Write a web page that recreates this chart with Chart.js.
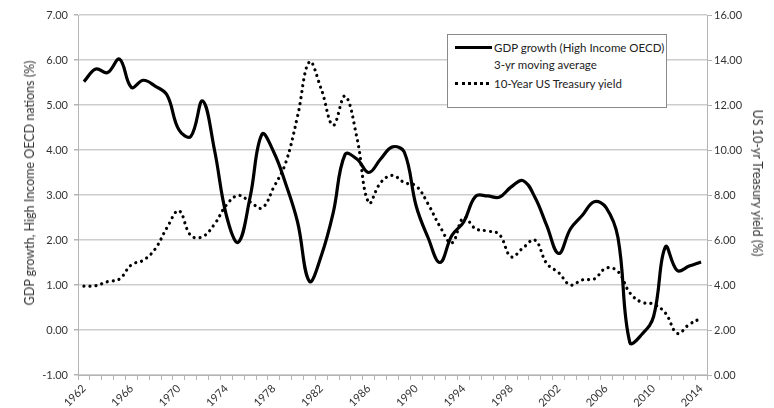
<!DOCTYPE html>
<html>
<head>
<meta charset="utf-8">
<script src="https://cdn.jsdelivr.net/npm/chart.js@4.4.1/dist/chart.umd.min.js"></script>
<style>
    html, body { margin: 0; padding: 0; background: #fff; }
    #wrap { position: relative; width: 774px; height: 408px; font-family: Lato, "Open Sans", sans-serif; color: #333; }
    #chart { position: absolute; left: 0; top: 0; }
    .axis-title { position: absolute; white-space: nowrap; font-size: 12.5px; line-height: 14px; color: #333; }
    #title-left { left: 30px; top: 183px; transform: translate(-50%, -50%) rotate(-90deg); }
    #title-right { left: 757px; top: 183px; transform: translate(-50%, -50%) rotate(90deg); }
    #legend { position: absolute; left: 447px; top: 34px; width: 218px; height: 72px; border: 1px solid #8a8a8a; background: #fff; font-size: 11.5px; color: #222; }
    #legend .sample { position: absolute; left: 7px; width: 37px; height: 0; }
    #legend .solid { top: 11px; border-top: 3px solid #000; }
    #legend .dotted { top: 47px; width: 34px; border-top: 3px dotted #000; }
    #legend .text { position: absolute; left: 46px; line-height: 17px; white-space: nowrap; }
</style>
</head>
<body>
<div id="wrap">
    <canvas id="chart" width="774" height="408"></canvas>
    <div class="axis-title" id="title-left">GDP growth, High Income OECD nations (%)</div>
    <div class="axis-title" id="title-right">US 10-yr Treasury yield (%)</div>
    <div id="legend">
        <div class="sample solid"></div>
        <div class="text" style="top:4px">GDP growth (High Income OECD)<br>3-yr moving average</div>
        <div class="sample dotted"></div>
        <div class="text" style="top:40px">10-Year US Treasury yield</div>
    </div>
</div>
<script>
// years on the category axis
var years = [];
for (var y = 1962; y <= 2014; y++) {
    years.push(String(y));
}

// GDP growth, high income OECD, 3-yr moving average (%)
var gdpGrowth = [
    5.52, 5.80, 5.72, 6.02, 5.39, 5.55, 5.42, 5.22, 4.45, 4.30,
    5.09, 4.00, 2.55, 1.95, 2.95, 4.35, 3.95, 3.25, 2.40, 1.08,
    1.65, 2.60, 3.90, 3.80, 3.50, 3.80, 4.07, 3.95, 2.75, 2.05,
    1.50, 2.10, 2.40, 2.97, 2.98, 2.95, 3.18, 3.32, 2.95, 2.32,
    1.70, 2.25, 2.55, 2.85, 2.72, 2.05, -0.28, -0.10, 0.30, 1.85,
    1.32, 1.42, 1.51
];

// 10-year US treasury yield (%)
var treasuryYield = [
    3.95, 3.97, 4.15, 4.27, 4.90, 5.10, 5.60, 6.55, 7.30, 6.20,
    6.15, 6.70, 7.55, 7.98, 7.70, 7.42, 8.35, 9.43, 11.50, 13.92,
    12.70, 11.10, 12.40, 10.55, 7.65, 8.55, 8.87, 8.55, 8.40, 7.60,
    6.60, 5.87, 7.00, 6.50, 6.40, 6.25, 5.25, 5.65, 6.00, 4.95,
    4.55, 4.00, 4.23, 4.27, 4.75, 4.60, 3.65, 3.23, 3.15, 2.75,
    1.85, 2.25, 2.52
];

var labelEvery = 4;
var tickFont = { family: 'Lato', size: 11 };
var tickColor = '#333';
var gridColor = '#cdcdcd';
var axisColor = '#b4b4b4';

function fixWidth(w) {
    return function (scale) { scale.width = w; };
}

var config = {
    type: 'line',
    data: {
        labels: years,
        datasets: [
            {
                label: 'GDP growth (High Income OECD) 3-yr moving average',
                data: gdpGrowth,
                yAxisID: 'y',
                borderColor: '#000',
                borderWidth: 3.2,
                tension: 0.4,
                pointRadius: 0,
                fill: false
            },
            {
                label: '10-Year US Treasury yield',
                data: treasuryYield,
                yAxisID: 'y2',
                borderColor: '#000',
                borderWidth: 3.2,
                borderDash: [0.01, 6],
                borderCapStyle: 'round',
                tension: 0.4,
                pointRadius: 0,
                fill: false
            }
        ]
    },
    options: {
        responsive: false,
        animation: false,
        layout: { padding: { top: 15, left: 0, right: 0, bottom: 0 } },
        plugins: {
            legend: { display: false },
            tooltip: { enabled: false }
        },
        scales: {
            x: {
                offset: true,
                grid: { offset: true, drawOnChartArea: false, drawTicks: true, tickLength: 5, color: axisColor },
                border: { display: true, color: axisColor, width: 1 },
                ticks: {
                    autoSkip: false,
                    minRotation: 45,
                    maxRotation: 45,
                    padding: 2,
                    color: tickColor,
                    font: { family: 'Lato', size: 11 },
                    callback: function (value, index) {
                        return index % labelEvery === 0 ? years[index] : '';
                    }
                },
                afterFit: function (scale) { scale.height = 33; }
            },
            y: {
                position: 'left',
                min: -1,
                max: 7,
                grid: { color: gridColor, lineWidth: 1.5, tickLength: 4, tickColor: axisColor },
                border: { display: true, color: axisColor, width: 1 },
                ticks: {
                    stepSize: 1,
                    padding: 6,
                    color: tickColor,
                    font: tickFont,
                    callback: function (v) { return v.toFixed(2); }
                },
                afterFit: fixWidth(78)
            },
            y2: {
                position: 'right',
                min: 0,
                max: 16,
                grid: { drawOnChartArea: false, tickLength: 5, color: axisColor },
                border: { display: true, color: axisColor, width: 1 },
                ticks: {
                    stepSize: 2,
                    padding: 2,
                    color: tickColor,
                    font: tickFont,
                    callback: function (v) { return v.toFixed(2); }
                },
                afterFit: fixWidth(67)
            }
        }
    }
};

var chart = new Chart(document.getElementById('chart'), config);
</script>
</body>
</html>
